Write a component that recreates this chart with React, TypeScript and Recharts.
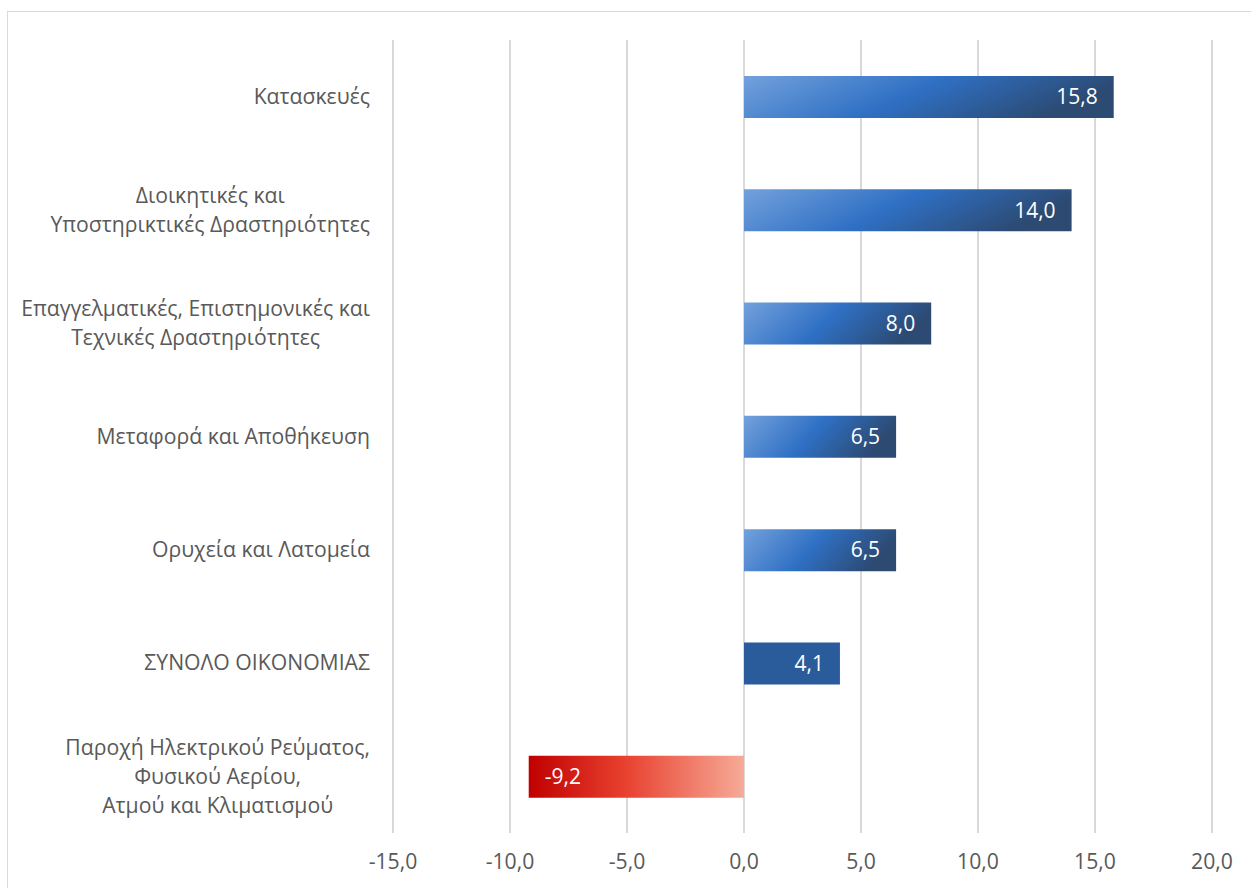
import { BarChart, Bar, XAxis, YAxis, CartesianGrid, Cell, LabelList } from "recharts";

const categories = [
  "Κατασκευές",
  "Διοικητικές και\nΥποστηρικτικές Δραστηριότητες",
  "Επαγγελματικές, Επιστημονικές και\nΤεχνικές Δραστηριότητες",
  "Μεταφορά και Αποθήκευση",
  "Ορυχεία και Λατομεία",
  "ΣΥΝΟΛΟ ΟΙΚΟΝΟΜΙΑΣ",
  "Παροχή Ηλεκτρικού Ρεύματος,\nΦυσικού Αερίου,\nΑτμού και Κλιματισμού",
];
const values = [15.8, 14.0, 8.0, 6.5, 6.5, 4.1, -9.2];
const xTicks = [-15, -10, -5, 0, 5, 10, 15, 20];
const totalCategory = "ΣΥΝΟΛΟ ΟΙΚΟΝΟΜΙΑΣ";

const data = categories.map((name, i) => ({ name, value: values[i] }));

const FONT = "'Open Sans', sans-serif";
const TICK_SIZE = 21.2;
const fmt = (v: number) => v.toFixed(1).replace(".", ",");

let ctx: CanvasRenderingContext2D | null = null;
function textWidth(s: string) {
  if (!ctx) ctx = document.createElement("canvas").getContext("2d");
  if (!ctx) return s.length * 10;
  ctx.font = `${TICK_SIZE}px 'Open Sans'`;
  return ctx.measureText(s).width;
}

function CategoryTick(props: any) {
  const { x, y, payload } = props;
  const lines = String(payload.value).split("\n");
  const maxW = Math.max(...lines.map(textWidth));
  const cx = x - maxW / 2;
  const lh = 29;
  const start = y - ((lines.length - 1) * lh) / 2;
  return (
    <text x={cx} y={start} textAnchor="middle" fill="#595959" fontSize={TICK_SIZE} fontFamily={FONT}>
      {lines.map((l, i) => (
        <tspan key={i} x={cx} y={start + i * lh} dy="0.35em">
          {l}
        </tspan>
      ))}
    </text>
  );
}

function ValueLabel(props: any) {
  const { x, y, width, height, value } = props;
  const left = Math.min(x, x + width);
  const right = Math.max(x, x + width);
  const neg = value < 0;
  return (
    <text
      x={neg ? left + 16 : right - 16}
      y={y + height / 2}
      dy="0.35em"
      textAnchor={neg ? "start" : "end"}
      fill="#ffffff"
      fontSize={21}
      fontFamily={FONT}
    >
      {fmt(value)}
    </text>
  );
}

export default function App() {
  return (
    <div style={{ position: "fixed", left: 0, top: 0, width: 1251, height: 888, background: "#fff", overflow: "hidden" }}>
      <div
        style={{
          position: "absolute",
          left: 7,
          top: 11,
          width: 1260,
          height: 900,
          borderTop: "1px solid #d9d9d9",
          borderLeft: "1px solid #d9d9d9",
        }}
      />
      <div style={{ position: "absolute", left: 0, top: 0 }}>
        <BarChart
          width={1251}
          height={888}
          data={data}
          layout="vertical"
          margin={{ top: 40, right: 39, bottom: 15, left: 0 }}
          barSize={42}
        >
          <defs>
            <linearGradient id="blueGrad" x1="0" y1="0" x2="1" y2="0.25">
              <stop offset="0%" stopColor="#73A1DC" />
              <stop offset="52%" stopColor="#2F70C4" />
              <stop offset="100%" stopColor="#2C4A72" />
            </linearGradient>
            <linearGradient id="redGrad" x1="0" y1="0" x2="1" y2="0">
              <stop offset="0%" stopColor="#C00000" />
              <stop offset="45%" stopColor="#E8412F" />
              <stop offset="100%" stopColor="#F6AB98" />
            </linearGradient>
          </defs>
          <CartesianGrid horizontal={false} stroke="#d9d9d9" strokeWidth={2} />
          <XAxis
            type="number"
            domain={[-15, 20]}
            ticks={xTicks}
            tickFormatter={fmt}
            axisLine={false}
            tickLine={false}
            tickSize={0}
            tickMargin={21}
            height={40}
            interval={0}
            tick={{ fill: "#595959", fontSize: TICK_SIZE, fontFamily: FONT }}
          />
          <YAxis
            type="category"
            dataKey="name"
            width={393}
            axisLine={false}
            tickLine={false}
            tickSize={0}
            tickMargin={23}
            interval={0}
            tick={<CategoryTick />}
          />
          <Bar dataKey="value" isAnimationActive={false}>
            {data.map((d, i) => (
              <Cell
                key={i}
                fill={d.value < 0 ? "url(#redGrad)" : d.name === totalCategory ? "#2A5B9B" : "url(#blueGrad)"}
              />
            ))}
            <LabelList dataKey="value" content={<ValueLabel />} />
          </Bar>
        </BarChart>
      </div>
    </div>
  );
}
